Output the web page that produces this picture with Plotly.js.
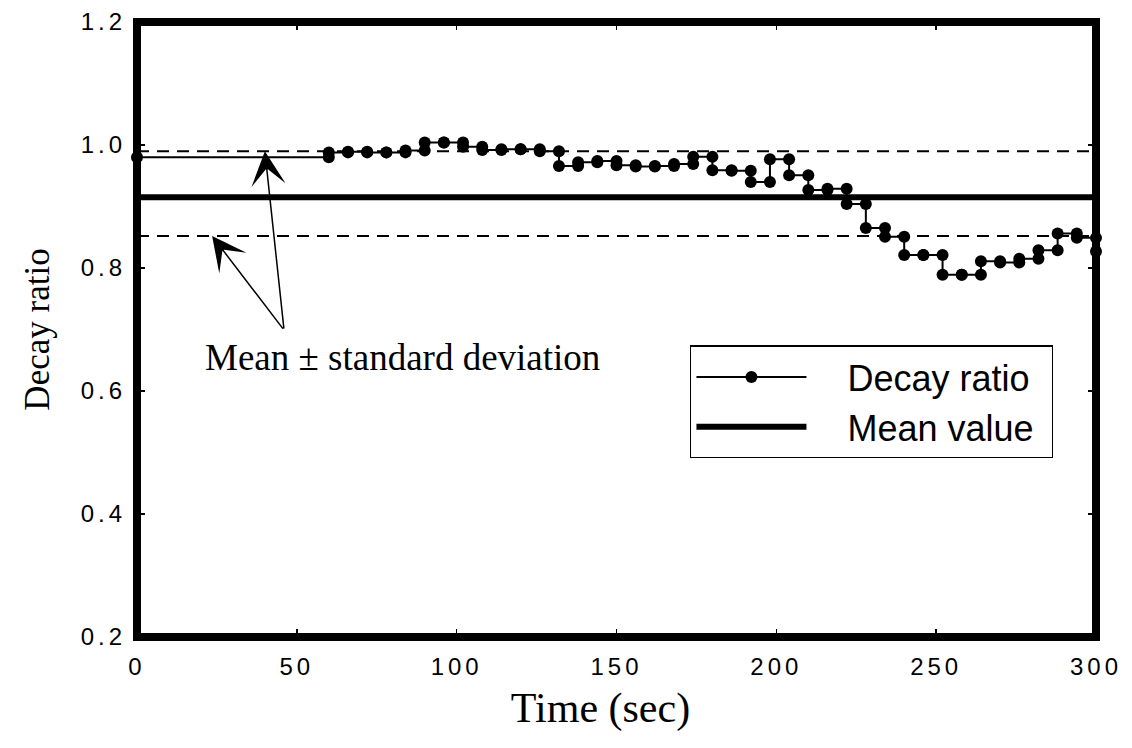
<!DOCTYPE html>
<html><head><meta charset="utf-8">
<script src="https://cdn.plot.ly/plotly-3.0.1.min.js"></script>
<style>
html,body{margin:0;padding:0;background:#fff;}
#chart{width:1132px;height:748px;}
.xtick text,.ytick text{letter-spacing:4px;}
.legend .scrollbox{clip-path:none;}
.legend .legendtext{transform:translateX(36px);}
.legend rect.bg{width:362px;}
text.xtitle{transform:translateX(-16px);}
</style></head><body><div id="chart"></div><script>
// Sample times (sec) and decay ratio held from each sample to the next
const sampleTimes = [0,60,66,72,78,84,90,96,102,108,114,120,126,132,138,144,150,156,162,168,174,180,186,192,198,204,210,216,222,228,234,240,246,252,258,264,270,276,282,288,294,300];
const decayRatio  = [0.980,0.988,0.989,0.988,0.988,0.991,1.004,1.004,0.997,0.992,0.993,0.993,0.990,0.966,0.972,0.974,0.967,0.965,0.966,0.969,0.981,0.959,0.958,0.940,0.977,0.951,0.927,0.929,0.904,0.865,0.851,0.821,0.821,0.789,0.789,0.811,0.809,0.815,0.829,0.856,0.849,0.827];
const meanValue = 0.915;
const stdUpper = 0.99;
const stdLower = 0.852;
const timeSpan = [0, 300];
const xTickVals = [0,50,100,150,200,250,300];
const yTickVals = [0.2,0.4,0.6,0.8,1.0,1.2];
const yTickText = ['0.2','0.4','0.6','0.8','1.0','1.2'];
const annotationText = 'Mean \u00b1 standard deviation';
const arrowTail = {t: 46, r: 0.699};
const arrowHeads = [{t: 40, r: stdUpper}, {t: 23.5, r: stdLower}];

const serif = 'Liberation Serif, Times New Roman, serif';
const sans = 'Liberation Sans, Arial, sans-serif';

const traces = [
  {x: timeSpan, y: [stdUpper, stdUpper], mode: 'lines', line: {color: '#000', width: 2, dash: '12px,8px'}, showlegend: false, hoverinfo: 'skip'},
  {x: timeSpan, y: [stdLower, stdLower], mode: 'lines', line: {color: '#000', width: 2, dash: '12px,8px'}, showlegend: false, hoverinfo: 'skip'},
  {x: timeSpan, y: [meanValue, meanValue], mode: 'lines', name: 'Mean value', line: {color: '#000', width: 6}, legendrank: 2, legendgroup: 'b'},
  // corner points: value before each step
  {x: sampleTimes.slice(1), y: decayRatio.slice(0, -1), mode: 'markers', marker: {color: '#000', size: 12}, showlegend: false, cliponaxis: false, hoverinfo: 'skip'},
  {x: sampleTimes, y: decayRatio, mode: 'lines+markers', name: 'Decay ratio', line: {color: '#000', width: 2, shape: 'hv'}, marker: {color: '#000', size: 12}, cliponaxis: false, legendrank: 1, legendgroup: 'a'}
];

const annotations = arrowHeads.map(h => ({
  x: h.t, y: h.r, xref: 'x', yref: 'y', ax: arrowTail.t, ay: arrowTail.r, axref: 'x', ayref: 'y',
  text: '', showarrow: true, arrowhead: 3, arrowsize: 3.8, arrowwidth: 1.5, arrowcolor: '#000'
}));
annotations.push({x: 82.9, y: 0.654, xref: 'x', yref: 'y', text: annotationText, showarrow: false,
  font: {family: serif, size: 37, color: '#000'}});

const layout = {
  width: 1132, height: 748,
  margin: {l: 137, r: 36, t: 22, b: 111},
  paper_bgcolor: '#fff', plot_bgcolor: '#fff',
  showlegend: true,
  legend: {x: 0.5766, y: 0.474, xanchor: 'left', yanchor: 'top', bgcolor: '#fff', bordercolor: '#000', borderwidth: 1.5,
    font: {family: sans, size: 36, color: '#000'}, itemwidth: 110, traceorder: 'grouped', tracegroupgap: 0},
  xaxis: {range: timeSpan, tickvals: xTickVals, ticks: 'inside', ticklen: 8, tickwidth: 1.5, tickcolor: '#000', mirror: 'ticks',
    showline: false, showgrid: false, zeroline: false, ticklabelstandoff: 13,
    minor: {dtick: 10, ticks: 'inside', ticklen: 4, tickwidth: 1.5, tickcolor: '#000', showgrid: false},
    tickfont: {family: sans, size: 24, color: '#000'},
    title: {text: 'Time (sec)', font: {family: serif, size: 42, color: '#000'}, standoff: 13}},
  yaxis: {range: [0.2, 1.2], tickvals: yTickVals, ticktext: yTickText, ticks: 'inside', ticklen: 8, tickwidth: 1.5, tickcolor: '#000', mirror: 'ticks',
    showline: false, showgrid: false, zeroline: false, ticklabelstandoff: 10,
    minor: {dtick: 0.05, ticks: 'inside', ticklen: 4, tickwidth: 1.5, tickcolor: '#000', showgrid: false},
    tickfont: {family: sans, size: 24, color: '#000'},
    title: {text: 'Decay ratio', font: {family: serif, size: 35, color: '#000'}, standoff: 20}},
  shapes: [{type: 'rect', xref: 'paper', yref: 'paper', x0: 0, x1: 1, y0: 0, y1: 1, line: {color: '#000', width: 8}, layer: 'above'}],
  annotations: annotations
};

Plotly.newPlot('chart', traces, layout, {displayModeBar: false, staticPlot: true});
</script></body></html>
